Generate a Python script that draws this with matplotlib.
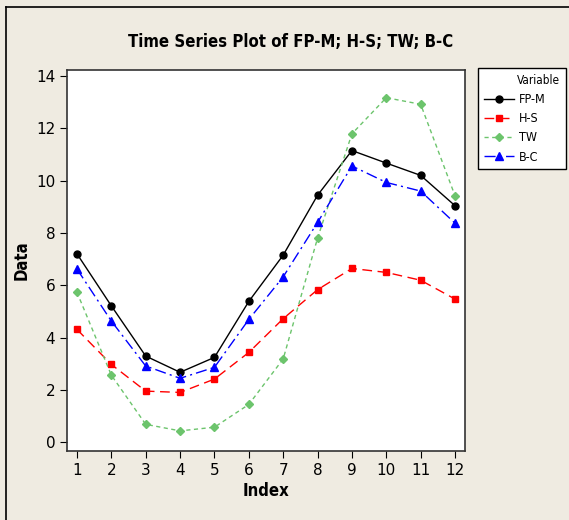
import matplotlib
matplotlib.use('Agg')
import matplotlib.pyplot as plt
from matplotlib.lines import Line2D

# data
index = [1, 2, 3, 4, 5, 6, 7, 8, 9, 10, 11, 12]
fp_m = [7.20, 5.21, 3.29, 2.67, 3.24, 5.38, 7.15, 9.44, 11.15, 10.67, 10.20, 9.04]
h_s = [4.31, 2.97, 1.95, 1.90, 2.41, 3.43, 4.72, 5.83, 6.64, 6.49, 6.19, 5.47]
tw = [5.73, 2.56, 0.68, 0.43, 0.57, 1.44, 3.18, 7.80, 11.79, 13.17, 12.92, 9.42]
b_c = [6.62, 4.63, 2.91, 2.44, 2.86, 4.69, 6.32, 8.40, 10.56, 9.93, 9.60, 8.37]

bg = '#efebe1'

fig = plt.figure(figsize=(5.69, 5.2), dpi=100, facecolor=bg)
ax = fig.add_axes([67 / 569, 1 - 451 / 520, 398 / 569, 381 / 520])
ax.set_facecolor('white')

ax.plot(index, fp_m, color='black', lw=1.0, ls='-', marker='o', ms=5, label='FP-M')
ax.plot(index, h_s, color='red', lw=1.0, ls=(0, (7, 4)), marker='s', ms=4.5, label='H-S')
ax.plot(index, tw, color='#6cc46c', lw=1.0, ls=(0, (3, 2.5)), marker='D', ms=4.5, label='TW')
ax.plot(index, b_c, color='blue', lw=1.0, ls=(0, (8, 3, 1.5, 3)), marker='^', ms=6, label='B-C')

ax.set_xlim(0.71, 12.29)
ax.set_ylim(-0.34, 14.23)
ax.set_xticks(index)
ax.set_yticks(range(0, 15, 2))
ax.tick_params(direction='out', length=5, labelsize=11, color='black')
for s in ax.spines.values():
    s.set_color('#333333')
    s.set_linewidth(1.2)

cond = dict(family='DejaVu Sans', stretch='condensed', fontweight='bold')
ax.set_xlabel('Index', fontsize=12, labelpad=3, **cond)
ax.set_ylabel('Data', fontsize=12, labelpad=4, **cond)
fig.text(0.51, 1 - 42 / 520, 'Time Series Plot of FP-M; H-S; TW; B-C', ha='center', va='center',
         fontsize=12, **cond)

leg = fig.legend(loc='upper left', bbox_to_anchor=(478 / 569, 1 - 166 / 520, 88 / 569, 98 / 520),
                 mode='expand', title='Variable', frameon=True, fancybox=False,
                 edgecolor='black', framealpha=1, facecolor='white',
                 handlelength=2.4, handletextpad=0.4, borderpad=0.45,
                 labelspacing=0.5, borderaxespad=0,
                 prop={'family': 'DejaVu Sans', 'stretch': 'condensed', 'size': 9})
leg.get_frame().set_linewidth(1.0)
leg.get_title().set_fontsize(8.5)
leg.get_title().set_stretch('condensed')
leg._legend_box.align = 'right'

# outer frame lines on top and left
fig.add_artist(Line2D([6 / 569, 1], [1 - 7 / 520, 1 - 7 / 520], color='black', lw=1.2))
fig.add_artist(Line2D([6 / 569, 6 / 569], [0, 1 - 7 / 520], color='black', lw=1.2))

fig.savefig('out.png', dpi=100, facecolor=bg)
